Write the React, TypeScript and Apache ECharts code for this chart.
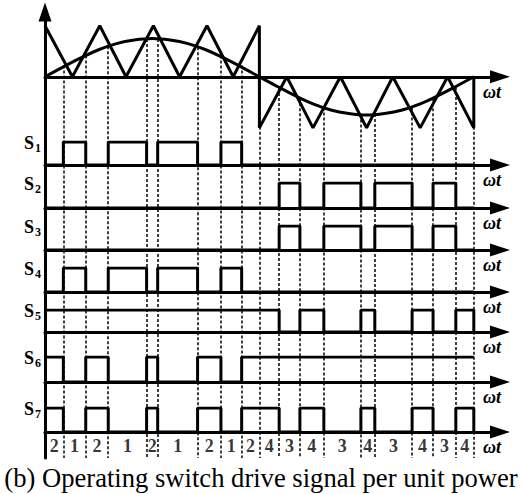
import React, { useEffect, useRef } from "react";
import * as echarts from "echarts";

// Switching instants (electrical degrees)
const boundaries = [0, 15.4, 34.2, 53.1, 85.3, 94.6, 128.1, 147.7, 165.1, 180, 196.6, 214, 234.1, 265.2, 276.9, 308.2, 325.8, 344.9, 360];
// Sine value where each dashed line starts (intersection with carrier)
const crossLevels = [0, 0.22, 0.42, 0.6, 0.74, 0.74, 0.58, 0.42, 0.22, 0, -0.22, -0.42, -0.6, -0.74, -0.73, -0.6, -0.42, -0.2, 0];
// Operating mode labels per segment
const segmentLabels = ["2", "1", "2", "1", "2", "1", "2", "1", "2", "4", "3", "4", "3", "4", "3", "4", "3", "4"];

// Triangular carrier
const carrierX = [0, 23, 46, 68, 91, 113, 136, 158, 180, 180, 203, 225, 248, 270, 292, 315, 338, 360, 360];
const carrierY = [1, 0, 1, 0, 1, 0, 1, 0, 1, -1, 0, -1, 0, -1, 0, -1, 0, -1, 0];

// Modulating sine (read every 15 degrees)
const sineX = [0, 15, 30, 45, 60, 75, 90, 105, 120, 135, 150, 165, 180, 195, 210, 225, 240, 255, 270, 285, 300, 315, 330, 345, 360];
const sineY = [0, 0.19, 0.37, 0.53, 0.65, 0.72, 0.75, 0.72, 0.65, 0.53, 0.37, 0.19, 0, -0.19, -0.37, -0.53, -0.65, -0.72, -0.75, -0.72, -0.65, -0.53, -0.37, -0.19, 0];

// Drive signals: level per segment (18) + level after the end
const signalNames = ["1", "2", "3", "4", "5", "6", "7"];
const S1 = [0, 1, 0, 1, 0, 1, 0, 1, 0, 0, 0, 0, 0, 0, 0, 0, 0, 0, 0];
const S2 = [0, 0, 0, 0, 0, 0, 0, 0, 0, 0, 1, 0, 1, 0, 1, 0, 1, 0, 0];
const S3 = [0, 0, 0, 0, 0, 0, 0, 0, 0, 0, 1, 0, 1, 0, 1, 0, 1, 0, 0];
const S4 = [0, 1, 0, 1, 0, 1, 0, 1, 0, 0, 0, 0, 0, 0, 0, 0, 0, 0, 0];
const S5 = [1, 1, 1, 1, 1, 1, 1, 1, 1, 1, 0, 1, 0, 1, 0, 1, 0, 1, 0];
const S6 = [1, 0, 1, 0, 1, 0, 1, 0, 1, 1, 1, 1, 1, 1, 1, 1, 1, 1, 1];
const S7 = [1, 0, 1, 0, 1, 0, 1, 0, 1, 1, 0, 1, 0, 1, 0, 1, 0, 1, 0];
const signals = [S1, S2, S3, S4, S5, S6, S7];

const axisName = "ωt";
const caption = "(b) Operating switch drive signal per unit power";

// Layout
const GRID_LEFT = 45;
const GRID_WIDTH = 455;
const X_MAX = 382;
const TOP_GRID_TOP = 12;
const TOP_GRID_HEIGHT = 446;
const Y_MAX = 1.27;
const Y_MIN = -7.47;
const rowTops = [142, 183, 226, 268, 310, 357, 408];
const rowBases = [165, 208, 250, 292, 332, 382, 432];
const LABEL_ROW_PX = 446;

const yAt = (px: number) => Y_MAX - ((px - TOP_GRID_TOP) * (Y_MAX - Y_MIN)) / TOP_GRID_HEIGHT;

const SERIF = "Liberation Serif";

export default function App() {
  const ref = useRef<HTMLDivElement>(null);
  useEffect(() => {
    document.body.style.margin = "0";
    if (!ref.current) return;
    const chart = echarts.init(ref.current, undefined, { renderer: "svg" });

    const axisLine = (sz: number[]) => ({
      show: true,
      onZero: true,
      symbol: ["none", "triangle"],
      symbolSize: sz,
      lineStyle: { color: "#000", width: 3 },
    });
    const nameStyle = {
      fontFamily: SERIF,
      fontStyle: "italic" as const,
      fontWeight: "bold" as const,
      fontSize: 18,
      color: "#000",
      align: "left" as const,
      verticalAlign: "top" as const,
      lineHeight: 18,
      padding: [6, 0, 0, 0],
    };

    const grids: any[] = [
      { left: GRID_LEFT, top: TOP_GRID_TOP, width: GRID_WIDTH, height: TOP_GRID_HEIGHT },
    ];
    const xAxes: any[] = [
      {
        type: "value", gridIndex: 0, min: 0, max: X_MAX,
        axisLine: axisLine([13, 20]), axisTick: { show: false }, axisLabel: { show: false }, splitLine: { show: false },
        name: axisName, nameLocation: "end", nameGap: -17, nameTextStyle: nameStyle,
      },
    ];
    const yAxes: any[] = [
      {
        type: "value", gridIndex: 0, min: Y_MIN, max: Y_MAX,
        axisLine: { ...axisLine([13, 19]), onZero: false }, axisTick: { show: false }, axisLabel: { show: false }, splitLine: { show: false },
      },
    ];
    const series: any[] = [];

    // dashed switching lines
    series.push({
      type: "lines",
      coordinateSystem: "cartesian2d",
      xAxisIndex: 0,
      yAxisIndex: 0,
      polyline: false,
      silent: true,
      z: 1,
      lineStyle: { color: "#000", width: 1.5, type: [3, 2], opacity: 1 },
      data: boundaries.slice(1).map((b, i) => ({ coords: [[b, crossLevels[i + 1]], [b, Y_MIN]] })),
    });

    // carrier
    series.push({
      type: "line", xAxisIndex: 0, yAxisIndex: 0, symbol: "none", z: 3,
      lineStyle: { color: "#000", width: 3 },
      data: carrierX.map((x, i) => [x, carrierY[i]]),
    });
    // sine
    series.push({
      type: "line", xAxisIndex: 0, yAxisIndex: 0, symbol: "none", smooth: 0.4, z: 3,
      lineStyle: { color: "#000", width: 3 },
      data: sineX.map((x, i) => [x, sineY[i]]),
    });
    // mode labels
    series.push({
      type: "scatter", xAxisIndex: 0, yAxisIndex: 0, symbol: "circle", symbolSize: 1, clip: false, z: 4,
      itemStyle: { color: "rgba(0,0,0,0)" },
      label: {
        show: true, position: "inside", formatter: "{b}",
        fontFamily: SERIF, fontWeight: "bold", fontSize: 18, color: "#000",
      },
      data: segmentLabels.map((lab, i) => ({
        name: lab,
        value: [(boundaries[i] + boundaries[i + 1]) / 2, yAt(LABEL_ROW_PX)],
      })),
    });

    signals.forEach((lev, r) => {
      const gi = r + 1;
      grids.push({ left: GRID_LEFT, top: rowTops[r], width: GRID_WIDTH, height: rowBases[r] - rowTops[r] });
      xAxes.push({
        type: "value", gridIndex: gi, min: 0, max: X_MAX,
        axisLine: axisLine([13, 20]), axisTick: { show: false }, axisLabel: { show: false }, splitLine: { show: false },
        name: axisName, nameLocation: "end", nameGap: -17, nameTextStyle: nameStyle,
      });
      yAxes.push({ type: "value", gridIndex: gi, min: 0, max: 1, show: false });
      series.push({
        type: "line", xAxisIndex: gi, yAxisIndex: gi, symbol: "none", step: "end", z: 3,
        lineStyle: { color: "#000", width: 3 },
        data: boundaries.map((b, i) => [b, lev[i]]),
      });
    });

    const graphics: any[] = [];
    signalNames.forEach((n, r) => {
      const cy = rowTops[r] + 1;
      graphics.push({
        type: "text", x: 24, y: cy,
        style: { text: "S", fontFamily: SERIF, fontWeight: "bold", fontSize: 18, fill: "#000", align: "left", verticalAlign: "middle" },
      });
      graphics.push({
        type: "text", x: 35, y: cy + 5,
        style: { text: n, fontFamily: SERIF, fontWeight: "bold", fontSize: 12, fill: "#000", align: "left", verticalAlign: "middle" },
      });
    });
    graphics.push({
      type: "text", x: 261, y: 478,
      style: { text: caption, fontFamily: SERIF, fontSize: 26.6, fill: "#000", align: "center", verticalAlign: "middle" },
    });

    chart.setOption({
      animation: false,
      backgroundColor: "#fff",
      grid: grids,
      xAxis: xAxes,
      yAxis: yAxes,
      series,
      graphic: graphics,
    });
    return () => chart.dispose();
  }, []);
  return <div ref={ref} style={{ width: 524, height: 494 }} />;
}
